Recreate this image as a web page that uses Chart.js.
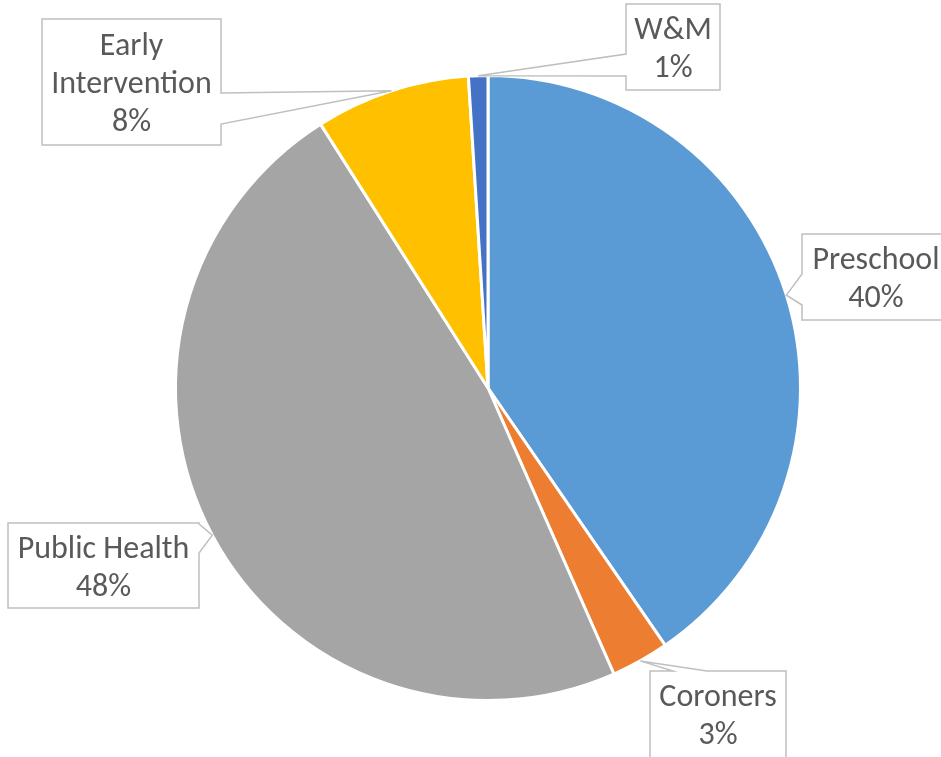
<!DOCTYPE html>
<html>
<head>
<meta charset="utf-8">
<script src="https://cdn.jsdelivr.net/npm/chart.js@4"></script>
<style>
  html, body { margin: 0; padding: 0; background: #fff; }
  #wrap { width: 941px; height: 757px; position: relative; }
</style>
</head>
<body>
<div id="wrap"><canvas id="chart"></canvas></div>
<script>
// data (slice sizes estimated, labels show rounded %)
const categories = ['Preschool', 'Coroners', 'Public Health', 'Early Intervention', 'W&M'];
const shares = [40.4, 3.0, 47.6, 8.0, 1.0];
const labelLines = [['Preschool'], ['Coroners'], ['Public Health'], ['Early', 'Intervention'], ['W&M']];

const sliceColors = ['#5B9BD5', '#ED7D31', '#A5A5A5', '#FFC000', '#4472C4'];

// callout boxes: where each box sits and which side the pointer leaves from
const callouts = [
    { x: 802, y: 234, w: 148, h: 86, side: 'left', a: 40, b: 71 },
    { x: 650, y: 671, w: 136, h: 90, side: 'top', a: 23, b: 57 },
    { x: 8, y: 523, w: 191, h: 85, side: 'right', a: 1, b: 30 },
    { x: 42, y: 19, w: 179, h: 126, side: 'right', a: 74, b: 105 },
    { x: 626, y: 4, w: 94, h: 86, side: 'left', a: 50, b: 72 }
];

const calloutPlugin = {
    id: 'callouts',
    afterDatasetsDraw(chart) {
        const ctx = chart.ctx;
        const meta = chart.getDatasetMeta(0);
        const total = shares.reduce((s, v) => s + v, 0);
        ctx.save();
        meta.data.forEach((arc, i) => {
            const p = arc.getProps(['x', 'y', 'startAngle', 'endAngle', 'outerRadius'], true);
            const mid = (p.startAngle + p.endAngle) / 2;
            const tx = p.x + Math.cos(mid) * p.outerRadius;
            const ty = p.y + Math.sin(mid) * p.outerRadius;
            const c = callouts[i];
            const x0 = c.x, y0 = c.y, x1 = c.x + c.w, y1 = c.y + c.h;

            ctx.beginPath();
            if (c.side === 'left') {
                ctx.moveTo(x0, y0);
                ctx.lineTo(x1, y0);
                ctx.lineTo(x1, y1);
                ctx.lineTo(x0, y1);
                ctx.lineTo(x0, y0 + c.b);
                ctx.lineTo(tx, ty);
                ctx.lineTo(x0, y0 + c.a);
                ctx.closePath();
            } else if (c.side === 'right') {
                ctx.moveTo(x0, y0);
                ctx.lineTo(x1, y0);
                ctx.lineTo(x1, y0 + c.a);
                ctx.lineTo(tx, ty);
                ctx.lineTo(x1, y0 + c.b);
                ctx.lineTo(x1, y1);
                ctx.lineTo(x0, y1);
                ctx.closePath();
            } else {
                ctx.moveTo(x0, y0);
                ctx.lineTo(x0 + c.a, y0);
                ctx.lineTo(tx, ty);
                ctx.lineTo(x0 + c.b, y0);
                ctx.lineTo(x1, y0);
                ctx.lineTo(x1, y1);
                ctx.lineTo(x0, y1);
                ctx.closePath();
            }
            ctx.fillStyle = '#ffffff';
            ctx.fill();
            ctx.strokeStyle = '#BFBFBF';
            ctx.lineWidth = 1.5;
            ctx.stroke();

            const pct = Math.round(shares[i] / total * 100);
            const lines = labelLines[i].concat([pct + '%']);
            const lh = 38;
            const cx = x0 + c.w / 2;
            const boxH = (c.side === 'top' || i === 0) ? 86 : c.h;
            const cy = y0 + boxH / 2 + 3;
            ctx.fillStyle = '#595959';
            ctx.font = '32px Carlito, Calibri, "Open Sans", sans-serif';
            ctx.textAlign = 'center';
            ctx.textBaseline = 'middle';
            lines.forEach((t, k) => {
                ctx.fillText(t, cx, cy + (k - (lines.length - 1) / 2) * lh);
            });
        });
        ctx.restore();
    }
};

new Chart(document.getElementById('chart'), {
    type: 'pie',
    data: {
        labels: categories,
        datasets: [{
            data: shares,
            backgroundColor: sliceColors,
            borderColor: '#ffffff',
            borderWidth: 3
        }]
    },
    options: {
        responsive: true,
        maintainAspectRatio: false,
        animation: false,
        events: [],
        layout: { padding: { left: 174, right: 139, top: 74, bottom: 55 } },
        plugins: {
            legend: { display: false },
            tooltip: { enabled: false }
        }
    },
    plugins: [calloutPlugin]
});
</script>
</body>
</html>
